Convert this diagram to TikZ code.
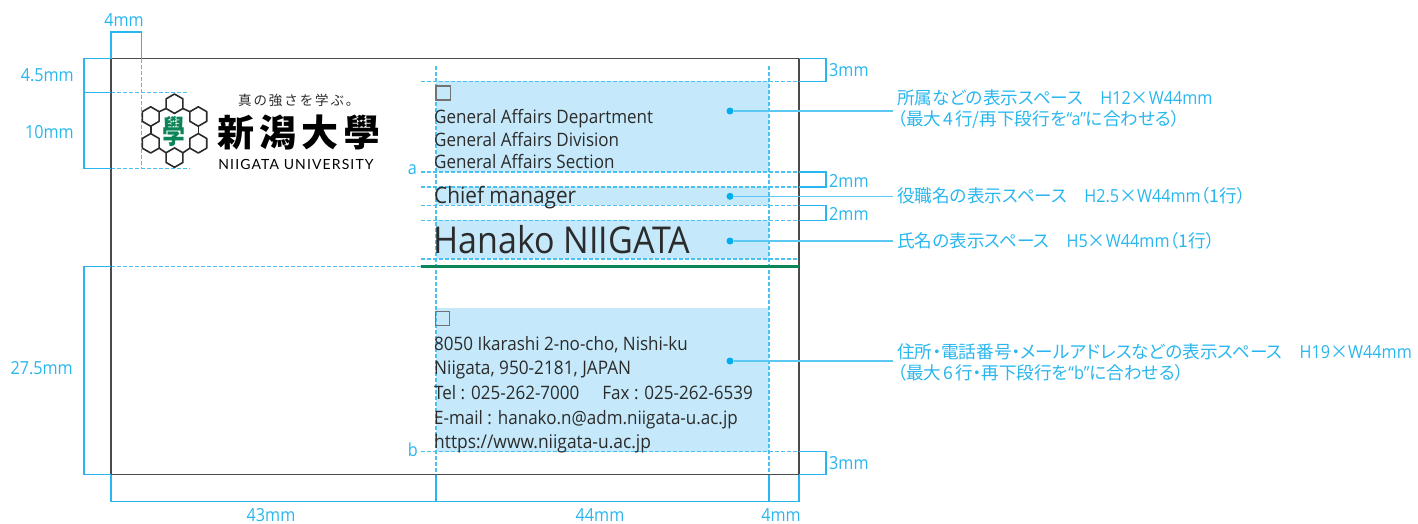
\documentclass[tikz,border=0pt]{standalone}
\usepackage{fontspec}
\setmainfont{Open Sans}[FakeStretch=0.92]
\newfontfamily\jp{Noto Sans CJK JP}
\newfontfamily\jpn{Noto Sans CJK JP}[RawFeature=+palt,Scale=0.98]
\newfontfamily\jpm{Noto Sans CJK JP}[LetterSpace=14]
\newfontfamily\latin{Open Sans}[FakeStretch=0.9]
\newfontfamily\logofont{Lato}[LetterSpace=8]
\definecolor{dimblue}{HTML}{29B6EE}
\definecolor{areablue}{HTML}{C5E9FA}
\definecolor{dotblue}{HTML}{00AEEF}
\definecolor{leader}{HTML}{5CC9F4}
\definecolor{ink}{HTML}{2B2B2B}
\definecolor{uni}{HTML}{0B8457}
\newcommand{\fs}[1]{\fontsize{#1}{#1}\selectfont}
\tikzset{
  card/.style={draw=ink!85,line width=1.3pt},
  dim/.style={draw=dimblue,line width=1.3pt},
  guide/.style={draw=dimblue!85,line width=1.2pt,dash pattern=on 3.5pt off 2.5pt},
  area/.style={fill=areablue,draw=none},
  lead/.style={draw=leader,line width=1.3pt},
  dot/.style={circle,fill=dotblue,minimum size=7pt,inner sep=0pt},
  dimtxt/.style={text=dimblue,inner sep=0pt,font=\latin\fs{18}},
  notetxt/.style={text=dimblue,inner sep=0pt,anchor=base west,font=\fs{18}},
  cardtxt/.style={text=ink,inner sep=0pt,anchor=base west},
  tick/.style={draw=gray!90!black,line width=1.2pt},
  hexa/.style={draw=ink,line width=1.6pt,line join=round}
}
\begin{document}
\begin{tikzpicture}[x=1pt,y=-1pt]
\useasboundingbox (0,0) rectangle (1418,523);
% areas
\fill[area] (436,81.3) rectangle (769,172);
\fill[area] (436,187) rectangle (769,205.3);
\fill[area] (436,220.3) rectangle (769,259);
\fill[area] (436,308) rectangle (769,451.7);
% guides
\foreach \yy in {81.3,172,187,205.3,220.3,259,451.7}{\draw[guide] (421,\yy) -- (799,\yy);}
\draw[guide] (436,66) -- (436,474.7);
\draw[guide] (769,66) -- (769,474.7);
\draw[guide] (141.5,59) -- (141.5,168.5);
\draw[guide] (111,92.7) -- (188,92.7);
\draw[guide] (111,168.5) -- (190,168.5);
\draw[guide] (111,266.5) -- (421,266.5);
% card
\draw[card] (111,58.7) rectangle (799,474.7);
\draw[draw=uni,line width=3pt] (421,266.5) -- (799,266.5);
% dimension brackets
\draw[dim] (111,58.7) -- (111,32) -- (141.5,32) -- (141.5,58.7);
\draw[dim] (111,58.7) -- (84,58.7) -- (84,168.5) -- (111,168.5);
\draw[dim] (84,92.7) -- (111,92.7);
\draw[dim] (111,266.5) -- (84,266.5) -- (84,474.7) -- (111,474.7);
\draw[dim] (111,474.7) -- (111,501.4) -- (799,501.4) -- (799,474.7);
\draw[dim] (436,474.7) -- (436,501.4);
\draw[dim] (769,474.7) -- (769,501.4);
\draw[dim] (799,58.7) -- (826,58.7) -- (826,81.3) -- (799,81.3);
\draw[dim] (799,172) -- (826,172) -- (826,187) -- (799,187);
\draw[dim] (799,205.3) -- (826,205.3) -- (826,220.3) -- (799,220.3);
\draw[dim] (799,451.7) -- (826,451.7) -- (826,474.7) -- (799,474.7);
% dimension labels
\node[dimtxt,anchor=center] (d4t) at (124,20) {4mm};
\node[dimtxt,anchor=east] (d45) at (74,75) {4.5mm};
\node[dimtxt,anchor=east] (d10) at (74,132) {10mm};
\node[dimtxt,anchor=east] (d275) at (73,368) {27.5mm};
\node[dimtxt,anchor=center] (d43) at (271,515) {43mm};
\node[dimtxt,anchor=center] (d44) at (600,515) {44mm};
\node[dimtxt,anchor=center] (d4b) at (781,515) {4mm};
\node[dimtxt,anchor=west] (d3a) at (829,70) {3mm};
\node[dimtxt,anchor=west] (d2a) at (829,181) {2mm};
\node[dimtxt,anchor=west] (d2b) at (829,214) {2mm};
\node[dimtxt,anchor=west] (d3b) at (829,463) {3mm};
\node[dimtxt,anchor=east] (la) at (417,170) {a};
\node[dimtxt,anchor=east] (lb) at (418,450) {b};
% ticks
\draw[tick] (436,86) rectangle (450.5,100);
\draw[tick] (435.5,311.3) rectangle (449.5,325.3);
% card text
\node[cardtxt,font=\fs{18.5}] (t1) at (434,123.5) {General Affairs Department};
\node[cardtxt,font=\fs{18.5}] (t2) at (434,146.5) {General Affairs Division};
\node[cardtxt,font=\fs{18.5}] (t3) at (434,168) {General Affairs Section};
\node[cardtxt,font=\fs{22.6}] (t4) at (434,203) {Chief manager};
\node[cardtxt,font=\fs{37}] (t5) at (433,253) {Hanako NIIGATA};
\node[cardtxt,font=\fs{18.5}] (a1) at (434,350.5) {8050 Ikarashi 2-no-cho, Nishi-ku};
\node[cardtxt,font=\fs{18.7}] (a2) at (434,374.5) {Niigata, 950-2181, JAPAN};
\node[cardtxt,font=\fs{18.5}] (a3) at (434,399) {Tel : 025-262-7000\hspace{23pt}Fax : 025-262-6539};
\node[cardtxt,font=\fs{18.5}] (a4) at (434,424) {E-mail : hanako.n@adm.niigata-u.ac.jp};
\node[cardtxt,font=\fs{18.9}] (a5) at (434,448) {https://www.niigata-u.ac.jp};
% leaders
\node[dot] (p1) at (730,111) {};
\node[dot] (p2) at (730,196.3) {};
\node[dot] (p3) at (730,241) {};
\node[dot] (p4) at (730,361) {};
\coordinate (q1) at (893,111);
\coordinate (q2) at (893,196.3);
\coordinate (q3) at (893,241);
\coordinate (q4) at (893,361);
\draw[lead] (p1) -- (q1);
\draw[lead] (p2) -- (q2);
\draw[lead] (p3) -- (q3);
\draw[lead] (p4) -- (q4);
% notes
\node[notetxt] (n1) at (897,104) {\jpn 所属などの表示スペース\hspace{17pt}\latin H12\jp ×\latin W44mm};
\node[notetxt] (n2) at (897,125) {\jpn （最大\hspace{2pt}4\hspace{2pt}行/再下段行を\latin “a”\jpn に合わせる）};
\node[notetxt] (n3) at (897,202) {\jpn 役職名の表示スペース\hspace{17pt}\latin H2.5\jp ×\latin W44mm\jpn （1行）};
\node[notetxt] (n4) at (897,247) {\jpn 氏名の表示スペース\hspace{17pt}\latin H5\jp ×\latin W44mm\jpn （1行）};
\node[notetxt] (n5) at (897,358) {\jpn 住所・電話番号・メールアドレスなどの表示スペース\hspace{17pt}\latin H19\jp ×\latin W44mm};
\node[notetxt] (n6) at (897,379) {\jpn （最大\hspace{2pt}6\hspace{2pt}行・再下段行を\latin “b”\jpn に合わせる）};
% logo
\foreach \cx/\cy in {174.5/103.7,198.3/116.5,198.3/143.3,174.5/157.6,150.7/143.3,150.7/116.5}{
  \draw[hexa] (\cx,\cy-9.7) -- (\cx+8.4,\cy-4.85) -- (\cx+8.4,\cy+4.85) -- (\cx,\cy+9.7) -- (\cx-8.4,\cy+4.85) -- (\cx-8.4,\cy-4.85) -- cycle;
}
\draw[hexa] (182.9,108.5) -- (189.9,111.7);
\draw[hexa] (198.3,126.2) -- (198.3,133.6);
\draw[hexa] (189.9,148.1) -- (182.9,152.8);
\draw[hexa] (166.1,152.8) -- (159.1,148.1);
\draw[hexa] (150.7,133.6) -- (150.7,126.2);
\draw[hexa] (159.1,111.7) -- (166.1,108.5);
\node[text=uni,inner sep=0pt,font=\jp\bfseries\fs{27}] (crest) at (174,131) {\scalebox{0.85}[1.18]{學}};
\node[text=ink,inner sep=0pt,font=\jpm\fs{13.5},anchor=west] (motto) at (238,100) {真の強さを学ぶ。};
\node[text=black,inner sep=0pt,font=\jp\bfseries\fs{37},anchor=west] (name) at (217,132) {新\hspace{5pt}潟\hspace{5pt}大\hspace{5pt}學};
\node[text=black,inner sep=0pt,font=\logofont\fs{14},anchor=center] (eng) at (296,164) {NIIGATA UNIVERSITY};
\end{tikzpicture}
\end{document}
